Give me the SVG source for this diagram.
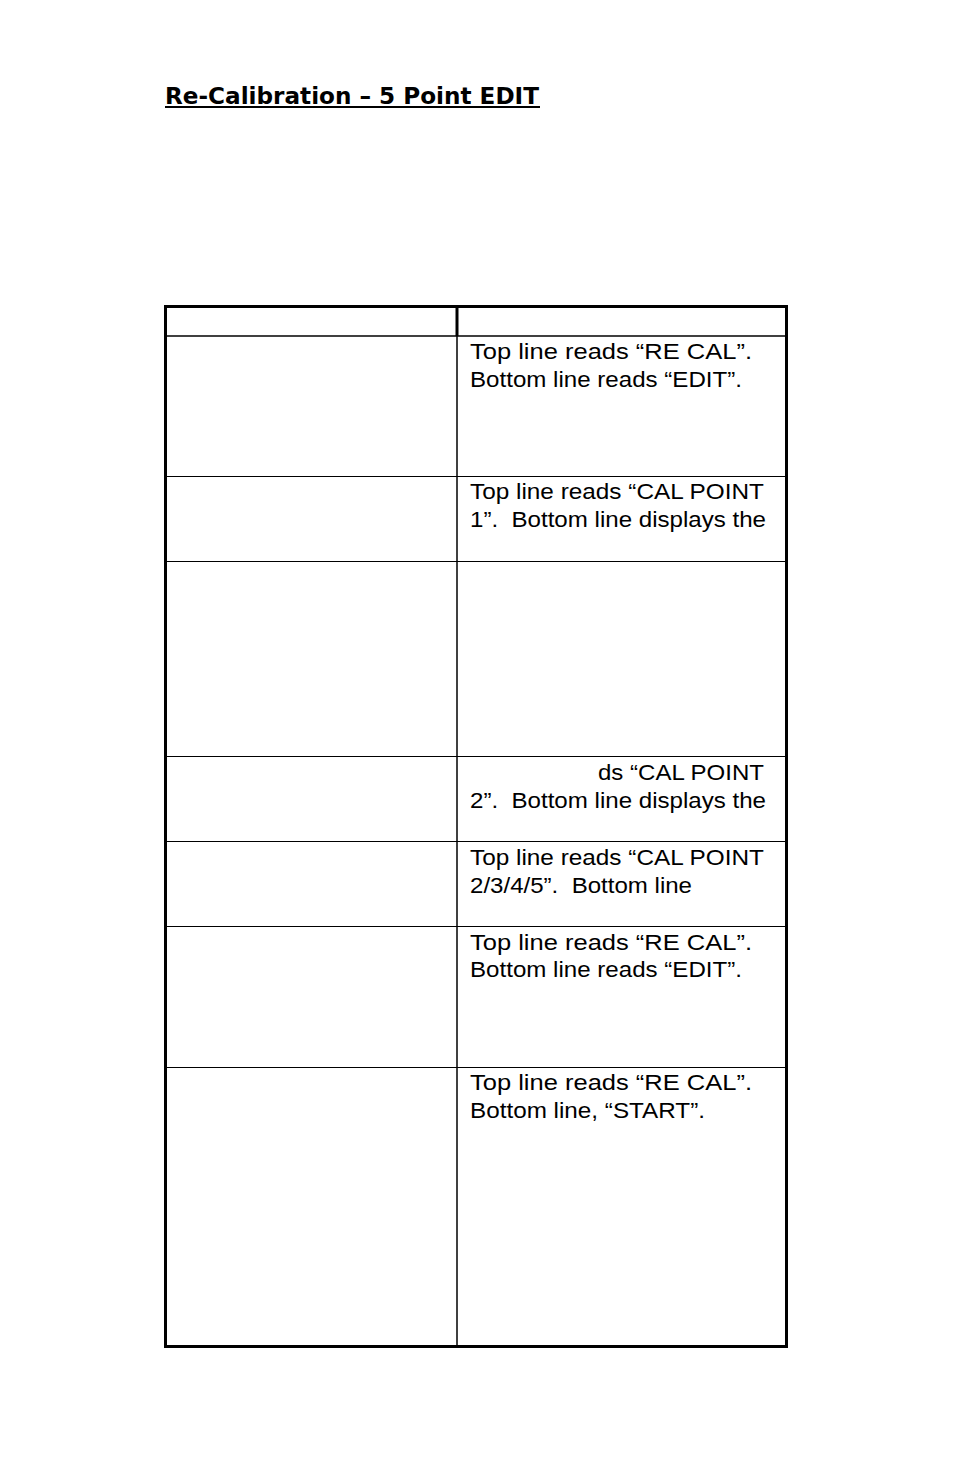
<svg xmlns="http://www.w3.org/2000/svg" width="954" height="1475" viewBox="0 0 954 1475">
<style>
.t{font-family:"Liberation Sans",Arial,sans-serif;font-size:21.5px;fill:#000;white-space:pre}
.h{font-family:"DejaVu Sans",Verdana,sans-serif;font-size:23px;font-weight:600;fill:#000}
.g{stroke:#000;fill:none}
</style>
<rect width="954" height="1475" fill="#fff"/>
<text class="h" x="165" y="104" textLength="374" lengthAdjust="spacingAndGlyphs">Re-Calibration – 5 Point EDIT</text>
<line class="g" x1="165" y1="107" x2="540" y2="107" stroke-width="2"/>
<g id="table">
<rect class="g" x="165.5" y="306.5" width="621" height="1040" stroke-width="3"/>
<line class="g" x1="457" y1="306" x2="457" y2="336" stroke-width="3"/>
<line class="g" x1="457" y1="336" x2="457" y2="1347" stroke-width="1.5"/>
<line class="g" x1="165" y1="336" x2="787" y2="336" stroke-width="1.5"/>
<line class="g" x1="165" y1="476.5" x2="787" y2="476.5" stroke-width="1"/>
<line class="g" x1="165" y1="561.5" x2="787" y2="561.5" stroke-width="1"/>
<line class="g" x1="165" y1="756.5" x2="787" y2="756.5" stroke-width="1"/>
<line class="g" x1="165" y1="841.5" x2="787" y2="841.5" stroke-width="1"/>
<line class="g" x1="165" y1="926.5" x2="787" y2="926.5" stroke-width="1"/>
<line class="g" x1="165" y1="1067.5" x2="787" y2="1067.5" stroke-width="1"/>
</g>
<g id="texts">
<text class="t" x="470" y="359" textLength="282" lengthAdjust="spacingAndGlyphs">Top line reads “RE CAL”.</text>
<text class="t" x="470" y="387" textLength="272" lengthAdjust="spacingAndGlyphs">Bottom line reads “EDIT”.</text>
<text class="t" x="470" y="499" textLength="294" lengthAdjust="spacingAndGlyphs">Top line reads “CAL POINT</text>
<text class="t" x="470" y="527" textLength="296" lengthAdjust="spacingAndGlyphs">1”.  Bottom line displays the</text>
<text class="t" x="598" y="780" textLength="166" lengthAdjust="spacingAndGlyphs">ds “CAL POINT</text>
<text class="t" x="470" y="808" textLength="296" lengthAdjust="spacingAndGlyphs">2”.  Bottom line displays the</text>
<text class="t" x="470" y="865" textLength="294" lengthAdjust="spacingAndGlyphs">Top line reads “CAL POINT</text>
<text class="t" x="470" y="893" textLength="222" lengthAdjust="spacingAndGlyphs">2/3/4/5”.  Bottom line</text>
<text class="t" x="470" y="950" textLength="282" lengthAdjust="spacingAndGlyphs">Top line reads “RE CAL”.</text>
<text class="t" x="470" y="977" textLength="272" lengthAdjust="spacingAndGlyphs">Bottom line reads “EDIT”.</text>
<text class="t" x="470" y="1090" textLength="282" lengthAdjust="spacingAndGlyphs">Top line reads “RE CAL”.</text>
<text class="t" x="470" y="1118" textLength="235" lengthAdjust="spacingAndGlyphs">Bottom line, “START”.</text>
</g>
</svg>
